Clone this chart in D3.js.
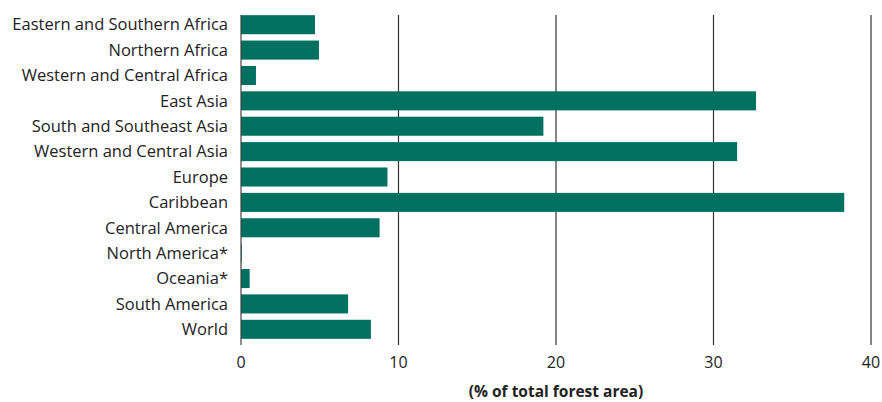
<!DOCTYPE html>
<html>
<head>
<meta charset="utf-8">
<script src="https://cdn.jsdelivr.net/npm/d3@7"></script>
<style>
  body { margin: 0; background: #fff; }
  text { font-family: "Open Sans", "Noto Sans", sans-serif; }
</style>
</head>
<body>
<svg id="chart"></svg>
<script>
// Horizontal bar chart, share of total forest area by region

const regions = [
  "Eastern and Southern Africa", "Northern Africa", "Western and Central Africa",
  "East Asia", "South and Southeast Asia", "Western and Central Asia",
  "Europe", "Caribbean", "Central America", "North America*", "Oceania*",
  "South America", "World"
];
const shares = [4.7, 4.95, 0.95, 32.7, 19.2, 31.5, 9.3, 38.3, 8.8, 0.05, 0.55, 6.8, 8.25];
const xTicks = [0, 10, 20, 30, 40];

const width = 882, height = 402;
const margin = { top: 12, right: 11, bottom: 60, left: 241 };

const svg = d3.select("#chart")
  .attr("width", width)
  .attr("height", height);

const x = d3.scaleLinear()
  .domain([0, 40])
  .range([margin.left, width - margin.right]);

const y = d3.scaleBand()
  .domain(regions)
  .range([margin.top, 342])
  .paddingInner(0.25)
  .paddingOuter(0.125);

// Vertical gridlines (drawn first, bars cover them)
svg.append("g")
  .selectAll("line")
  .data(xTicks.filter(d => d > 0))
  .join("line")
  .attr("x1", d => x(d))
  .attr("x2", d => x(d))
  .attr("y1", 15)
  .attr("y2", 345)
  .attr("stroke", "#333")
  .attr("stroke-width", 1.2);

// Bars
svg.append("g")
  .selectAll("rect")
  .data(regions)
  .join("rect")
  .attr("x", x(0))
  .attr("y", d => y(d))
  .attr("width", (d, i) => x(shares[i]) - x(0))
  .attr("height", y.bandwidth())
  .attr("fill", "#007060");

// Zero axis line
svg.append("line")
  .attr("x1", x(0))
  .attr("x2", x(0))
  .attr("y1", 15)
  .attr("y2", 345)
  .attr("stroke", "#444")
  .attr("stroke-width", 1.2);

// X tick labels
svg.append("g")
  .selectAll("text")
  .data(xTicks)
  .join("text")
  .attr("x", d => x(d))
  .attr("y", 368)
  .attr("text-anchor", "middle")
  .style("font-size", "16px")
  .style("fill", "#222")
  .text(d => d);

// Category labels
svg.append("g")
  .selectAll("text")
  .data(regions)
  .join("text")
  .attr("x", 228)
  .attr("y", d => y(d) + y.bandwidth() / 2)
  .attr("dy", "0.35em")
  .attr("text-anchor", "end")
  .style("font-size", "16.5px")
  .style("fill", "#222")
  .text(d => d);

// X axis title
svg.append("text")
  .attr("x", x(20))
  .attr("y", 397)
  .attr("text-anchor", "middle")
  .style("font-size", "15.5px")
  .style("font-weight", "bold")
  .style("fill", "#222")
  .text("(% of total forest area)");
</script>
</body>
</html>
